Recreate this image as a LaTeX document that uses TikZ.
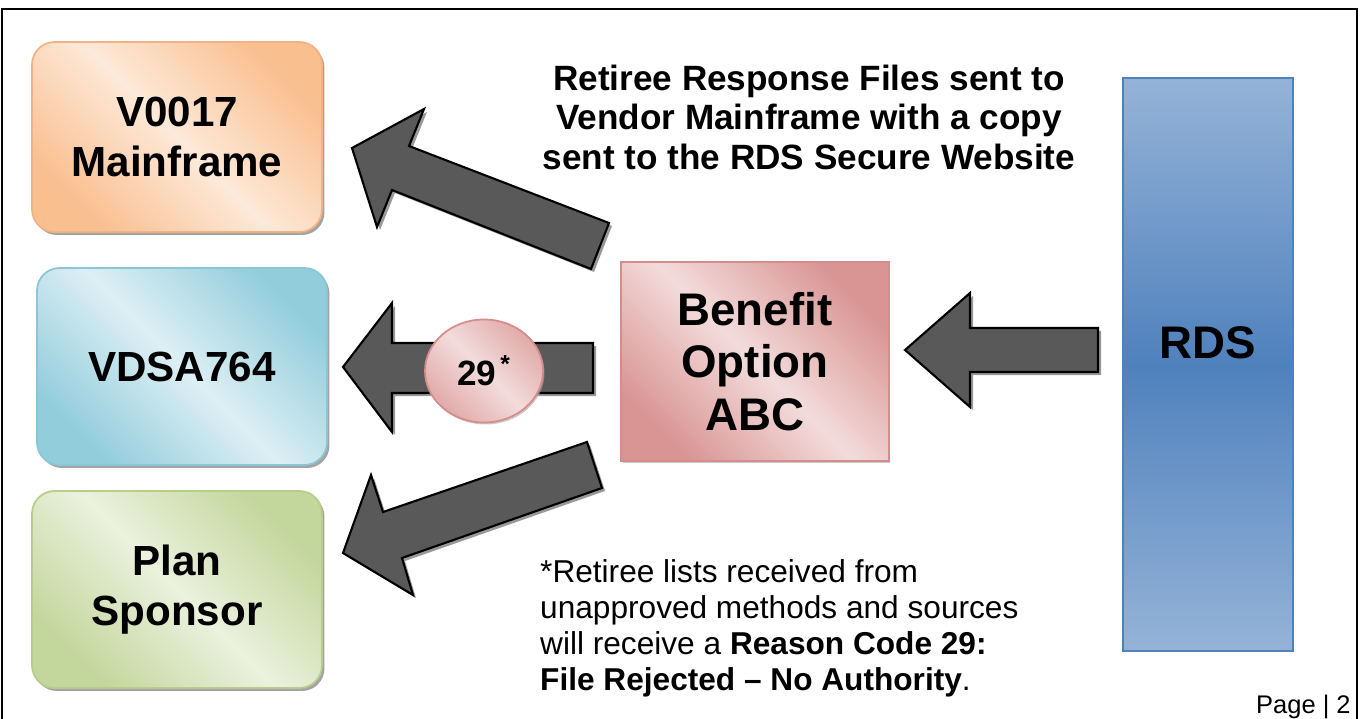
\documentclass[tikz,border=0pt]{standalone}
\usepackage{fontspec}
\setmainfont{Liberation Sans}
\usetikzlibrary{shapes.geometric,shadows}

\definecolor{orangedark}{HTML}{F9BF8F}
\definecolor{orangelight}{HTML}{FDE9D9}
\definecolor{orangeline}{HTML}{F4B183}
\definecolor{bluedark}{HTML}{92CDDC}
\definecolor{bluelight}{HTML}{DDEFF4}
\definecolor{blueline}{HTML}{8CC6D6}
\definecolor{greendark}{HTML}{C3D69B}
\definecolor{greenlight}{HTML}{EBF1DE}
\definecolor{greenline}{HTML}{B7CD8B}
\definecolor{reddark}{HTML}{D99594}
\definecolor{redlight}{HTML}{F2DCDB}
\definecolor{redline}{HTML}{D58C8B}
\definecolor{rdsdark}{HTML}{4F81BD}
\definecolor{rdslight}{HTML}{95B3D7}
\definecolor{arrowgray}{HTML}{595959}

\tikzset{
  sysbox/.style={rectangle, rounded corners=0.45cm, minimum width=5.8cm, minimum height=3.94cm, line width=1pt, align=center,
    font=\fontsize{24}{28.5}\selectfont\bfseries,
    drop shadow={shadow xshift=0.05cm, shadow yshift=-0.06cm, fill=black!45, opacity=0.8}},
  diagshade/.style 2 args={top color=#1, bottom color=#1, middle color=#2, shading angle=-45},
  blockarrow/.style={fill=arrowgray, draw=black, line width=1.2pt, line join=miter,
    drop shadow={shadow xshift=0.06cm, shadow yshift=-0.06cm, fill=black!40, opacity=1}},
}

\begin{document}
\begin{tikzpicture}[x=0.02cm, y=-0.02cm]
  \useasboundingbox (0,0) rectangle (1361,719);
  % Frame
  \draw[line width=1.2pt] (2,740) -- (2,9) -- (1357,9) -- (1357,740);
  % Nodes
  \node (main) [sysbox, minimum height=3.8cm, draw=orangeline, diagshade={orangedark}{orangelight}] at (177,137) {V0017\\Mainframe};
  \node (vdsa) [sysbox, draw=blueline, diagshade={bluedark}{bluelight}] at (182,366.5) {VDSA764};
  \node (sponsor) [sysbox, draw=greenline, diagshade={greendark}{greenlight}] at (177,589.5) {Plan\\Sponsor};
  \node (benefit) [rectangle, minimum width=5.36cm, minimum height=3.98cm, line width=1pt, draw=redline,
    diagshade={reddark}{redlight}, align=center, font=\fontsize{26}{29.8}\selectfont\bfseries,
    drop shadow={shadow xshift=0.03cm, shadow yshift=-0.04cm, fill=black!35, opacity=0.6}] at (755,361.5) {Benefit\\Option\\ABC};
  \node (rds) [rectangle, minimum width=3.4cm, minimum height=11.46cm, line width=1pt, draw=rdsdark,
    top color=rdslight, bottom color=rdslight, middle color=rdsdark] at (1208,364.5) {};
  \node (rdslabel) [font=\fontsize{26}{29.8}\selectfont\bfseries] at ([yshift=0.44cm]rds.center) {RDS};
  % Block arrows
  \path[blockarrow] (352,148) -- (424,109) -- (409,146) -- (609,223) -- (591,269) -- (392,190) -- (377,227) -- cycle;
  \path[blockarrow] (343,367) -- (392,303) -- (392,343) -- (593,343) -- (593,393) -- (392,393) -- (392,432) -- cycle;
  \path[blockarrow] (343,553) -- (371,475) -- (383,512) -- (587,442) -- (602,488) -- (402,558) -- (413,595) -- cycle;
  \path[blockarrow] (905,350) -- (970,293) -- (970,328) -- (1098,328) -- (1098,372) -- (970,372) -- (970,407) -- cycle;
  % Reason code
  \node (code) [ellipse, minimum width=2.36cm, minimum height=2.06cm, line width=1pt, draw=redline,
    diagshade={reddark!70!redlight}{redlight}, font=\fontsize{20}{24}\selectfont\bfseries,
    drop shadow={shadow xshift=0.03cm, shadow yshift=-0.04cm, fill=black!35, opacity=0.6}] at (484,371) {29\textsuperscript{\,*}};
  % Texts
  \node (title) [font=\fontsize{20}{22.5}\selectfont\bfseries, align=center] at (809,117)
    {Retiree Response Files sent to\\Vendor Mainframe with a copy\\sent to the RDS Secure Website};
  \node (note) [font=\fontsize{18}{20.5}\selectfont, align=left, anchor=west] at (534,628)
    {*Retiree lists received from\\unapproved methods and sources\\will receive a \textbf{Reason Code 29:}\\\textbf{File Rejected – No Authority}.};
  \node (page) [font=\fontsize{14.5}{17}\selectfont, anchor=base east, inner sep=0pt] at (1351,713) {Page | 2};
\end{tikzpicture}
\end{document}
